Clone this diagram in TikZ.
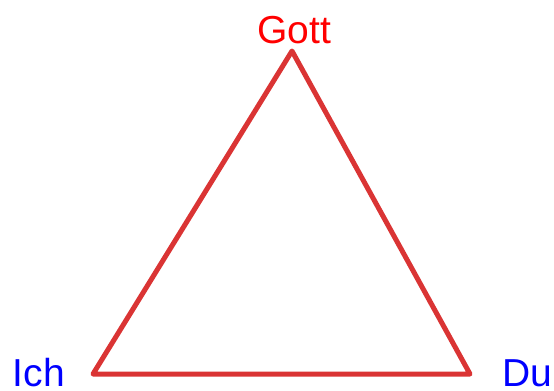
\documentclass[tikz,border=0pt]{standalone}
\usepackage{fontspec}
\setmainfont{Liberation Sans}
\definecolor{linered}{RGB}{218,52,52}
\definecolor{godred}{RGB}{255,0,0}
\definecolor{humanblue}{RGB}{0,0,255}
\begin{document}
\begin{tikzpicture}[x=1bp, y=-1bp, every node/.style={inner sep=0pt, font=\fontsize{39bp}{39bp}\selectfont}]
				\useasboundingbox (0,0) rectangle (554,390);
				% Ecken
				\coordinate (gott) at (292,51);
				\coordinate (ich) at (93,374);
				\coordinate (du) at (470,374);
				
				% Dreieck
				\draw[linered, line width=5bp, line join=round] (gott) -- (du) -- (ich) -- cycle;
				
				% Beschriftungen
				\node[anchor=base, text=godred] (gottlabel) at (294,43) {Gott};
				\node[anchor=base, text=humanblue] (ichlabel) at (39,386) {Ich};
				\node[anchor=base, text=humanblue] (dulabel) at (527,386) {Du};
			\end{tikzpicture}
\end{document}
